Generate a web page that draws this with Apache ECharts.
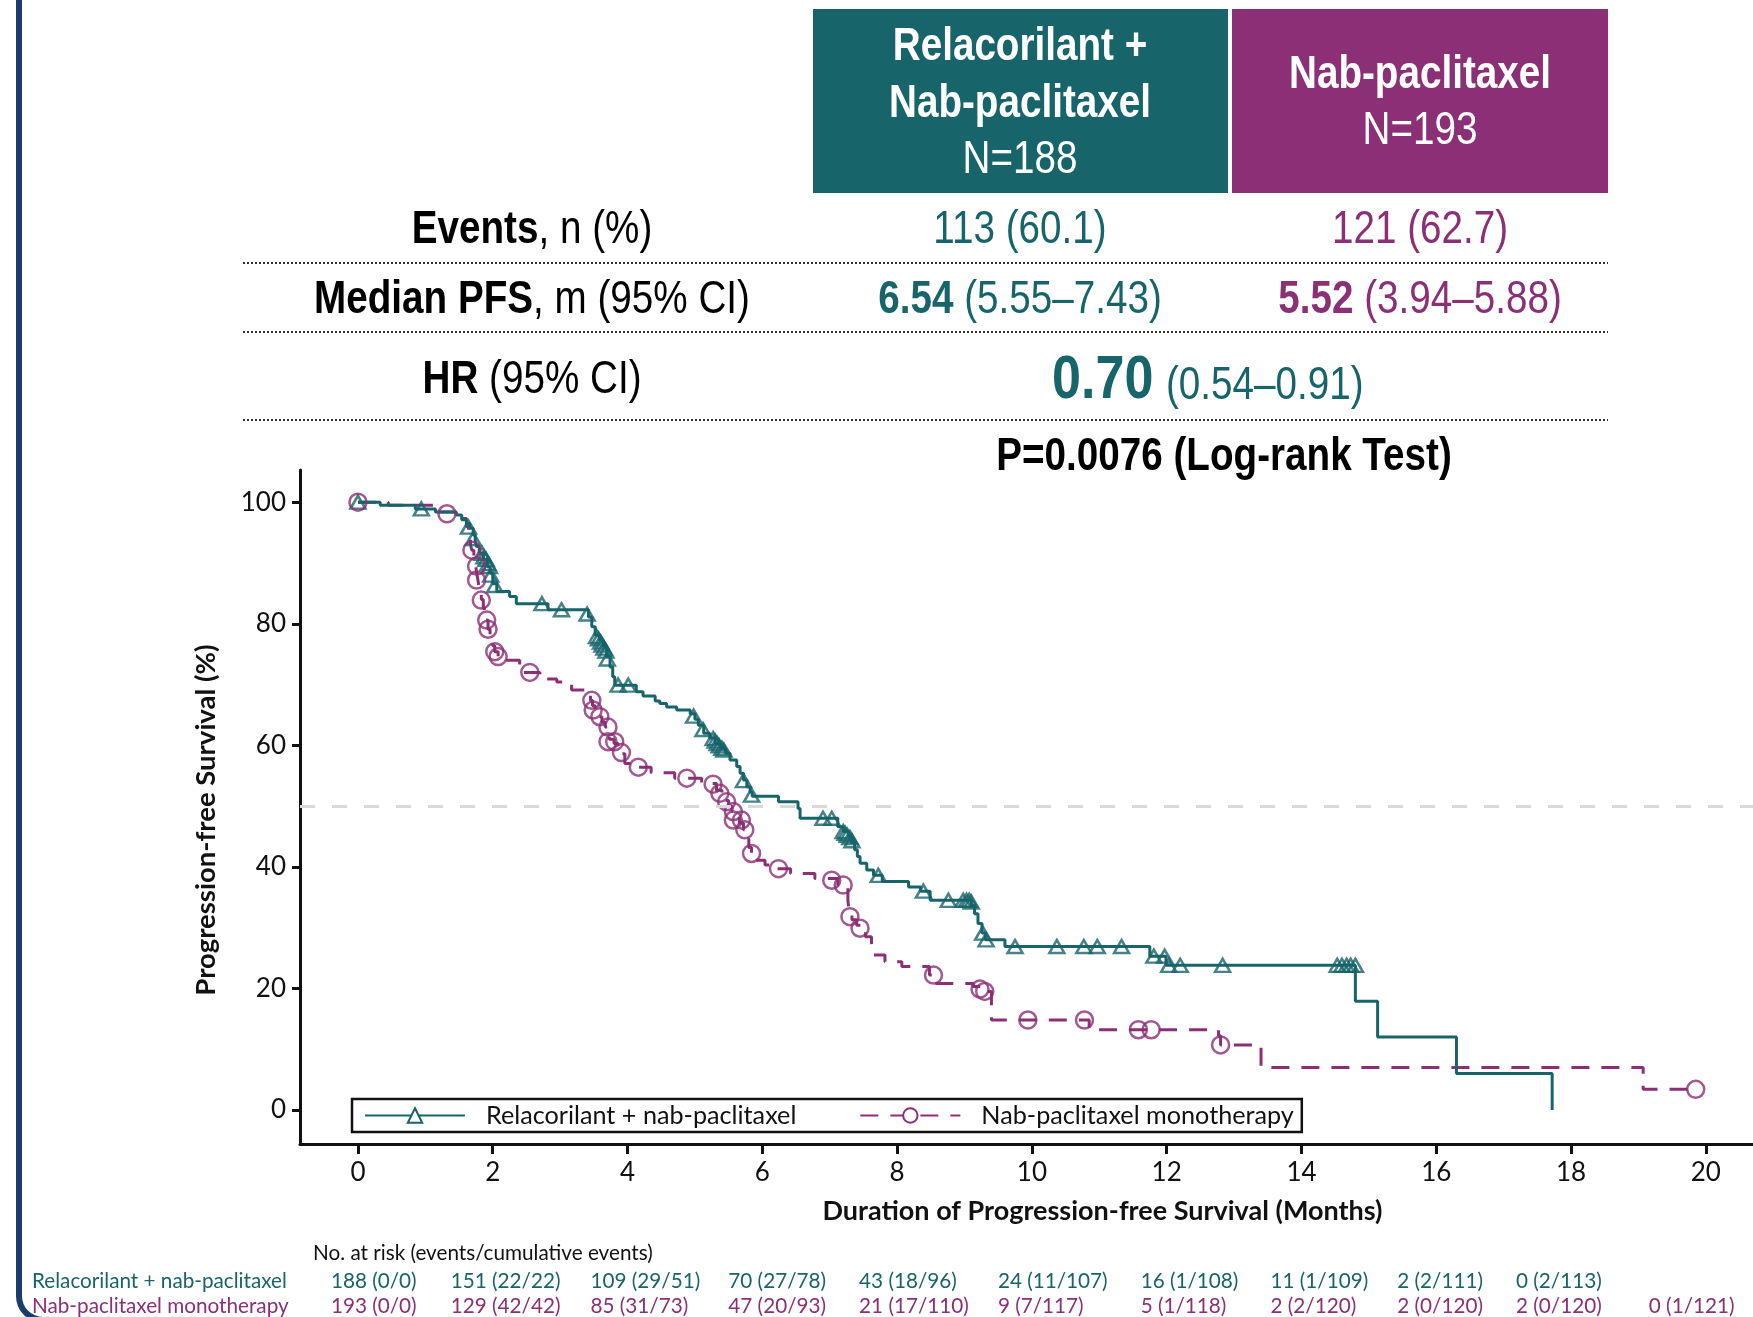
<!DOCTYPE html>
<html>
<head>
<meta charset="utf-8">
<title>Progression-free survival</title>
<script src="https://cdn.jsdelivr.net/npm/echarts@6/dist/echarts.min.js"></script>
<style>
  html, body { margin: 0; padding: 0; background: #ffffff; }
  #chart { width: 1753px; height: 1317px; }
</style>
</head>
<body>
<div id="chart"></div>
<script>
// ---- data -------------------------------------------------------------
const armNames = ['Relacorilant + nab-paclitaxel', 'Nab-paclitaxel monotherapy'];

const xTicks = [0, 2, 4, 6, 8, 10, 12, 14, 16, 18, 20];
const yTicks = [0, 20, 40, 60, 80, 100];

// Kaplan-Meier steps: [month, survival % after the drop]
const relaSteps = [
  [0, 100], [0.33, 99.5], [0.85, 98.9], [1.15, 98.4], [1.46, 97.9], [1.54, 97.1], [1.61, 96.5],
  [1.66, 95.7], [1.71, 94.6], [1.74, 93.5], [1.76, 92.7], [1.8, 91.6], [1.86, 90.6], [1.92, 89.4],
  [1.96, 88.3], [2.0, 86.6], [2.06, 85.3], [2.25, 84.5], [2.35, 83.3], [2.82, 82.3], [3.42, 81.1],
  [3.47, 79.5], [3.52, 78.1], [3.58, 77.3], [3.64, 76.2], [3.69, 74.6], [3.74, 72.9], [3.78, 71.3],
  [3.81, 69.9], [4.13, 68.8], [4.23, 68.1], [4.41, 67.3], [4.48, 66.9], [4.58, 66.3], [4.73, 65.8],
  [4.93, 65.2], [5.0, 64.3], [5.05, 63.3], [5.13, 62.0], [5.22, 61.2], [5.3, 60.3], [5.38, 59.5],
  [5.45, 58.7], [5.52, 57.6], [5.62, 56.5], [5.67, 55.4], [5.72, 54.3], [5.77, 53.2], [5.82, 52.3],
  [5.85, 51.6], [6.24, 50.7], [6.53, 49.6], [6.56, 48.0], [7.12, 46.6], [7.2, 45.8], [7.28, 45.0],
  [7.32, 44.0], [7.37, 42.8], [7.41, 41.7], [7.45, 40.6], [7.55, 39.5], [7.65, 38.6], [7.78, 37.6],
  [8.17, 36.7], [8.35, 36.0], [8.49, 34.5], [9.1, 33.6], [9.15, 32.3], [9.2, 30.7], [9.26, 29.1],
  [9.31, 28.0], [9.6, 26.9], [11.75, 25.3], [11.99, 23.8], [14.8, 17.9], [15.13, 12.0], [16.3, 6.0],
  [17.72, 0]
];
const relaCensored = [
  [0, 100], [0.94, 98.9], [1.64, 95.9], [1.71, 94.0], [1.84, 91.6], [1.87, 91.0], [1.9, 90.6],
  [1.93, 89.9], [1.95, 89.4], [1.97, 88.0], [2.03, 86.3], [2.73, 83.3], [3.02, 82.3], [3.4, 81.6],
  [3.54, 77.9], [3.57, 77.5], [3.6, 77.0], [3.62, 76.5], [3.65, 76.0], [3.68, 75.5], [3.7, 74.2],
  [3.86, 69.9], [4.01, 69.9], [4.98, 64.8], [5.12, 62.6], [5.27, 61.1], [5.3, 60.7], [5.33, 60.3],
  [5.36, 59.9], [5.4, 59.5], [5.43, 59.2], [5.72, 54.2], [5.84, 51.8], [6.9, 48.0], [7.03, 48.0],
  [7.2, 45.8], [7.23, 45.5], [7.26, 45.2], [7.3, 44.8], [7.33, 44.3], [7.72, 38.6], [8.39, 36.0],
  [8.76, 34.5], [8.98, 34.5], [9.03, 34.5], [9.07, 34.5], [9.1, 34.2], [9.27, 29.1], [9.32, 28.0],
  [9.75, 26.9], [10.37, 26.9], [10.77, 26.9], [10.97, 26.9], [11.33, 26.9], [11.81, 25.3],
  [11.97, 25.3], [12.03, 23.8], [12.2, 23.8], [12.83, 23.8], [14.53, 23.8], [14.6, 23.8],
  [14.67, 23.8], [14.73, 23.8], [14.8, 23.8]
];
const nabSteps = [
  [0, 100], [0.45, 99.5], [1.15, 98.4], [1.44, 97.9], [1.52, 97.3], [1.61, 96.0], [1.64, 94.5],
  [1.67, 93.0], [1.69, 92.1], [1.72, 91.0], [1.74, 90.0], [1.76, 88.5], [1.78, 87.2], [1.8, 85.8],
  [1.83, 84.0], [1.86, 82.5], [1.9, 80.6], [1.93, 79.1], [1.96, 77.8], [2.0, 76.4], [2.03, 75.4],
  [2.08, 74.6], [2.14, 74.0], [2.4, 72.0], [2.7, 70.9], [2.95, 70.4], [3.17, 69.1], [3.4, 68.2],
  [3.45, 67.4], [3.48, 66.5], [3.52, 65.6], [3.57, 64.7], [3.62, 63.8], [3.67, 63.0], [3.7, 62.0],
  [3.73, 61.0], [3.8, 60.3], [3.86, 59.5], [3.91, 58.6], [3.96, 57.0], [4.14, 56.4], [4.35, 55.5],
  [4.7, 54.6], [5.1, 53.7], [5.32, 52.6], [5.4, 51.8], [5.45, 50.9], [5.5, 50.0], [5.55, 49.1],
  [5.6, 48.0], [5.66, 47.2], [5.72, 46.1], [5.77, 44.6], [5.8, 43.2], [5.84, 42.2], [5.88, 41.1],
  [6.04, 40.3], [6.2, 39.7], [6.42, 38.9], [6.78, 38.1], [7.12, 37.0], [7.27, 34.5], [7.29, 32.3],
  [7.33, 31.3], [7.4, 30.4], [7.47, 29.6], [7.53, 28.5], [7.62, 27.4], [7.64, 25.5], [7.82, 24.4],
  [8.07, 23.6], [8.48, 22.2], [8.56, 20.8], [9.13, 20.3], [9.28, 19.5], [9.4, 14.8], [10.85, 13.2],
  [12.77, 12.2], [12.8, 10.7], [13.4, 7.0], [19.07, 3.4], [19.85, 3.4]
];
const nabCensored = [
  [0, 100], [1.32, 98.1], [1.69, 92.1], [1.76, 89.5], [1.76, 87.2], [1.83, 83.9], [1.91, 80.6],
  [1.93, 79.1], [2.03, 75.4], [2.08, 74.6], [2.55, 72.0], [3.47, 67.4], [3.49, 65.8], [3.59, 64.7],
  [3.71, 63.0], [3.71, 60.6], [3.81, 60.6], [3.91, 58.8], [4.16, 56.4], [4.88, 54.6], [5.27, 53.6],
  [5.37, 52.1], [5.47, 50.7], [5.57, 49.1], [5.57, 47.7], [5.69, 47.7], [5.74, 46.1], [5.84, 42.2],
  [6.24, 39.7], [7.03, 37.8], [7.2, 37.0], [7.3, 31.8], [7.45, 29.9], [8.54, 22.2], [9.23, 19.9],
  [9.3, 19.5], [9.94, 14.8], [10.78, 14.8], [11.58, 13.2], [11.77, 13.2], [12.8, 10.7], [19.85, 3.4]
];

// numbers at risk (events/cumulative events) per 2-month mark
const atRiskTimes = [0, 2, 4, 6, 8, 10, 12, 14, 16, 18, 20];
const relaAtRisk = ['188 (0/0)', '151 (22/22)', '109 (29/51)', '70 (27/78)', '43 (18/96)',
  '24 (11/107)', '16 (1/108)', '11 (1/109)', '2 (2/111)', '0 (2/113)', ''];
const nabAtRisk = ['193 (0/0)', '129 (42/42)', '85 (31/73)', '47 (20/93)', '21 (17/110)',
  '9 (7/117)', '5 (1/118)', '2 (2/120)', '2 (0/120)', '2 (0/120)', '0 (1/121)'];

// summary table
const armHeaders = [['Relacorilant +', 'Nab-paclitaxel', 'N=188'], ['Nab-paclitaxel', 'N=193']];
const eventsText = ['113 (60.1)', '121 (62.7)'];
const medianValue = ['6.54', '5.52'];
const medianCI = [' (5.55–7.43)', ' (3.94–5.88)'];
const hrValue = '0.70';
const hrCI = '(0.54–0.91)';
const pText = 'P=0.0076 (Log-rank Test)';

// ---- styling ----------------------------------------------------------
const TEAL = '#17646a';
const PURPLE = '#8b2f76';
const INK = '#111111';
const SANS = 'Liberation Sans, Arial, sans-serif';
const LATO = 'Lato, sans-serif';
const NARROW = 0.84;
// left edge of each at-risk column, measured from its month tick
const atRiskColumnShift = [-27, -42, -37, -34, -38, -34, -26, -31, -39, -55, -57];

const chart = echarts.init(document.getElementById('chart'), null, { renderer: 'canvas' });

const option = {
  animation: false,
  backgroundColor: '#ffffff',
  grid: { left: 300, right: 0, top: 470, bottom: 173 },
  xAxis: {
    type: 'value', min: -0.86, max: 20.7,
    axisLine: { onZero: false, lineStyle: { color: INK, width: 3 } },
    axisTick: { show: true, customValues: xTicks, length: 10, lineStyle: { color: INK, width: 3 } },
    axisLabel: { customValues: xTicks, fontFamily: LATO, fontSize: 26, color: INK, margin: 16 },
    splitLine: { show: false },
    name: 'Duration of Progression-free Survival (Months)',
    nameLocation: 'middle', nameGap: 54,
    nameTextStyle: { fontFamily: LATO, fontWeight: 'bold', fontSize: 27, color: INK, padding: [0, 0, 0, 152] }
  },
  yAxis: {
    type: 'value', min: -5.6, max: 105.3,
    axisLine: { show: true, onZero: false, lineStyle: { color: INK, width: 3 } },
    axisTick: { show: true, customValues: yTicks, length: 8, lineStyle: { color: INK, width: 3 } },
    axisLabel: { customValues: yTicks, fontFamily: LATO, fontSize: 26, color: INK, margin: 14 },
    splitLine: { show: false },
    name: 'Progression-free Survival (%)',
    nameLocation: 'middle', nameGap: 80, nameRotate: 90,
    nameTextStyle: { fontFamily: LATO, fontWeight: 'bold', fontSize: 27.5, color: INK, padding: [0, 26, 0, 0] }
  },
  legend: {
    left: 352, top: 1099,
    data: [armNames[0], armNames[1]],
    selectedMode: false,
    itemWidth: 100, itemHeight: 18, itemGap: 63,
    padding: [4, 8, 4, 12],
    borderColor: INK, borderWidth: 2.5, borderRadius: 0,
    textStyle: { fontFamily: LATO, fontSize: 25.2, color: INK, padding: [0, 0, 0, 16] }
  },
  series: [
    {
      name: armNames[0], type: 'line', step: 'end', data: relaSteps,
      symbol: 'emptyTriangle', showSymbol: false, silent: true, z: 3,
      lineStyle: { color: TEAL, width: 3 },
      itemStyle: { color: TEAL },
      markLine: {
        silent: true, symbol: ['none', 'none'], label: { show: false },
        lineStyle: { color: '#d9d9d9', width: 3, type: [15, 17] },
        data: [{ yAxis: 50 }]
      }
    },
    {
      name: armNames[1], type: 'line', step: 'end', data: nabSteps,
      symbol: 'emptyCircle', showSymbol: false, silent: true, z: 2,
      lineStyle: { color: PURPLE, width: 3, type: [18, 12] },
      itemStyle: { color: PURPLE }
    },
    {
      name: 'rela-censored', type: 'scatter', data: relaCensored, silent: true, z: 4,
      symbol: 'triangle', symbolSize: [15, 13],
      itemStyle: { color: 'rgba(0,0,0,0)', borderColor: TEAL, borderWidth: 2.5 }
    },
    {
      name: 'nab-censored', type: 'scatter', data: nabCensored, silent: true, z: 4,
      symbol: 'circle', symbolSize: 17,
      itemStyle: { color: 'rgba(0,0,0,0)', borderColor: PURPLE, borderWidth: 2.5 }
    }
  ]
};
chart.setOption(option);

// ---- annotation graphics ---------------------------------------------
function narrowText(x, y, text, rich, align) {
  return {
    type: 'text', x: x, y: y, scaleX: NARROW, silent: true, z: 10,
    style: { x: 0, y: 0, text: text, rich: rich, align: align || 'center', verticalAlign: 'middle' }
  };
}
function richSet(color, size) {
  return {
    b: { fontFamily: SANS, fontWeight: 'bold', fontSize: size, fill: color },
    r: { fontFamily: SANS, fontWeight: 'normal', fontSize: size, fill: color }
  };
}
function dotted(y) {
  return {
    type: 'line', silent: true, z: 10,
    shape: { x1: 243, y1: y, x2: 1608, y2: y },
    style: { stroke: '#333333', lineWidth: 2, lineDash: [2, 2] }
  };
}
function plainText(x, y, text, color, size, align) {
  return {
    type: 'text', silent: true, z: 10, x: x, y: y,
    style: { text: text, fontFamily: LATO, fontSize: size, fill: color, align: align || 'left', verticalAlign: 'middle' }
  };
}

const graphics = [];

// frame edge on the left
graphics.push({
  type: 'rect', silent: true, z: 1,
  shape: { x: 19, y: -40, width: 3000, height: 1360, r: 24 },
  style: { fill: 'none', stroke: '#1c3c6e', lineWidth: 6 }
});

// arm header boxes
graphics.push({ type: 'rect', silent: true, z: 5, shape: { x: 813, y: 9, width: 415, height: 184 }, style: { fill: TEAL } });
graphics.push({ type: 'rect', silent: true, z: 5, shape: { x: 1232, y: 9, width: 376, height: 184 }, style: { fill: PURPLE } });
const white = richSet('#ffffff', 46);
graphics.push(narrowText(1020, 47, '{b|' + armHeaders[0][0] + '}', white));
graphics.push(narrowText(1020, 104, '{b|' + armHeaders[0][1] + '}', white));
graphics.push(narrowText(1020, 160, '{r|' + armHeaders[0][2] + '}', white));
graphics.push(narrowText(1420, 75, '{b|' + armHeaders[1][0] + '}', white));
graphics.push(narrowText(1420, 131, '{r|' + armHeaders[1][1] + '}', white));

// row labels
const black = richSet('#000000', 46);
graphics.push(narrowText(532, 230, '{b|Events}{r|, n (%)}', black));
graphics.push(narrowText(532, 300, '{b|Median PFS}{r|, m (95% CI)}', black));
graphics.push(narrowText(532, 380, '{b|HR}{r| (95% CI)}', black));

// row values
graphics.push(narrowText(1020, 230, '{r|' + eventsText[0] + '}', richSet(TEAL, 46)));
graphics.push(narrowText(1420, 230, '{r|' + eventsText[1] + '}', richSet(PURPLE, 46)));
graphics.push(narrowText(1020, 300, '{b|' + medianValue[0] + '}{r|' + medianCI[0] + '}', richSet(TEAL, 46)));
graphics.push(narrowText(1420, 300, '{b|' + medianValue[1] + '}{r|' + medianCI[1] + '}', richSet(PURPLE, 46)));
graphics.push(narrowText(1052, 381, '{b|' + hrValue + '}', richSet(TEAL, 62), 'left'));
graphics.push(narrowText(1166, 386, '{r|' + hrCI + '}', richSet(TEAL, 46), 'left'));
graphics.push(narrowText(1224, 457, '{b|' + pText + '}', richSet('#000000', 46)));

graphics.push(dotted(263));
graphics.push(dotted(332));
graphics.push(dotted(420));

// numbers at risk
graphics.push(plainText(313, 1253, 'No. at risk (events/cumulative events)', INK, 20.7));
graphics.push(plainText(32, 1281, armNames[0], TEAL, 20.7));
graphics.push(plainText(32, 1306, armNames[1], PURPLE, 20.7));
atRiskTimes.forEach(function (t, i) {
  const px = chart.convertToPixel({ xAxisIndex: 0 }, t) + atRiskColumnShift[i];
  if (relaAtRisk[i]) graphics.push(plainText(px, 1281, relaAtRisk[i], TEAL, 20.7));
  if (nabAtRisk[i]) graphics.push(plainText(px, 1306, nabAtRisk[i], PURPLE, 20.7));
});

chart.setOption({ graphic: graphics });
</script>
</body>
</html>
